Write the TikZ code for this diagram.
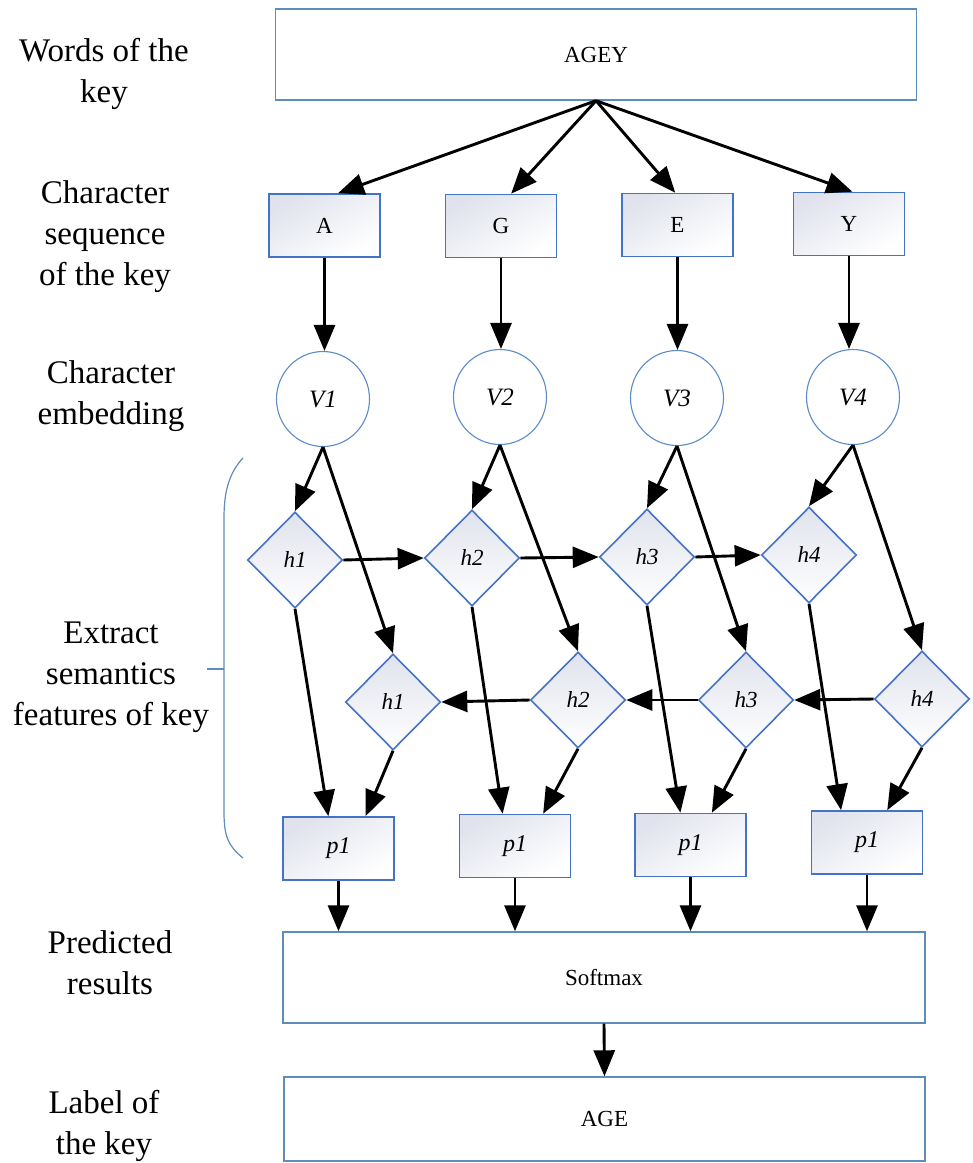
\documentclass[tikz,border=0pt]{standalone}
\usepackage{fontspec}
\setmainfont{Liberation Serif}
\usetikzlibrary{shapes.geometric,arrows.meta,calc}
\definecolor{boxblue}{RGB}{68,114,196}
\definecolor{bigblue}{RGB}{96,140,186}
\definecolor{circblue}{RGB}{91,140,200}
\definecolor{shadegray}{RGB}{224,227,237}
\begin{document}
\begin{tikzpicture}[x=1pt,y=-1pt,
  arr/.style={line width=2.9pt,-{Triangle[length=26pt,width=21pt]}},
  bigbox/.style={draw=bigblue,line width=1.4pt,fill=white,minimum width=641pt,inner sep=0pt,font=\fontsize{23}{27}\selectfont},
  chbox/.style={draw=boxblue,line width=1.6pt,top color=shadegray,bottom color=white,shading angle=30,minimum width=111pt,minimum height=63pt,inner sep=0pt,font=\fontsize{23}{27}\selectfont},
  pbox/.style={chbox,font=\fontsize{24}{28}\selectfont\itshape},
  emb/.style={draw=circblue,line width=1.1pt,fill=white,ellipse,minimum width=93pt,minimum height=95pt,inner sep=0pt,font=\fontsize{25}{29}\selectfont\itshape},
  hid/.style={draw=boxblue,line width=1.6pt,top color=shadegray,bottom color=white,diamond,aspect=1,minimum width=95pt,minimum height=96pt,inner sep=0pt,font=\fontsize{23}{27}\selectfont\itshape},
  lab/.style={align=center,inner sep=0pt,font=\fontsize{33}{41}\selectfont},
  brace/.style={draw=bigblue,line width=1.2pt}
]
\useasboundingbox (0,0) rectangle (973,1163);

% left labels
\node[lab] (l1) at (104,74) {Words of the\\key};
\node[lab] (l2) at (105,237) {Character\\sequence\\of the key};
\node[lab] (l3) at (111,396) {Character\\embedding};
\node[lab] (l4) at (111,677) {Extract\\semantics\\features of key};
\node[lab] (l5) at (110,963) {Predicted\\results};
\node[lab] (l6) at (104,1126) {Label of\\the key};

% brace
\draw[brace] (243,458) .. controls (228,474) and (224,494) .. (224,518) -- (224,812) .. controls (224,836) and (228,846) .. (243,858);
\draw[brace] (207,669) -- (224,669);

% big boxes
\node[bigbox,minimum height=91pt] (top) at (596,54.5) {AGEY};
\node[bigbox,minimum height=91pt,minimum width=642pt] (sm) at (604,977.5) {Softmax};
\node[bigbox,minimum height=84pt] (age) at (604.5,1119) {AGE};

% characters
\node[chbox] (cA) at (324.5,225.5) {A};
\node[chbox] (cG) at (501,226) {G};
\node[chbox] (cE) at (677.5,225) {E};
\node[chbox] (cY) at (849,224) {Y};

% embeddings
\node[emb] (V1) at (323,399) {V1};
\node[emb] (V2) at (500,397) {V2};
\node[emb] (V3) at (677,398) {V3};
\node[emb] (V4) at (853,397) {V4};

% forward hidden
\node[hid] (t1) at (295,560) {h1};
\node[hid] (t2) at (472,558) {h2};
\node[hid] (t3) at (647,557) {h3};
\node[hid] (t4) at (809,555) {h4};

% backward hidden
\node[hid] (b1) at (393,702) {h1};
\node[hid] (b2) at (578,700) {h2};
\node[hid] (b3) at (746,700) {h3};
\node[hid] (b4) at (922,699) {h4};

% outputs
\node[pbox] (p1) at (338.5,848.5) {p1};
\node[pbox] (p2) at (515,846) {p1};
\node[pbox] (p3) at (690.5,845) {p1};
\node[pbox] (p4) at (867,842.5) {p1};

% fan from top
\draw[arr] (top.south) -- ($(cA.north west)!0.62!(cA.north east)$);
\draw[arr] (top.south) -- ($(cG.north west)!0.59!(cG.north east)$);
\draw[arr] (top.south) -- ($(cE.north west)!0.48!(cE.north east)$);
\draw[arr] (top.south) -- ($(cY.north west)!0.53!(cY.north east)$);

% char to embedding
\draw[arr] (cA.south) -- (cA.south |- V1.north);
\draw[arr] (cG.south) -- (cG.south |- V2.north);
\draw[arr] (cE.south) -- (cE.south |- V3.north);
\draw[arr] (cY.south) -- (cY.south |- V4.north);

% embedding to hidden
\foreach \i in {1,2,3,4}{
  \draw[arr] (V\i.south) -- (t\i.north);
  \draw[arr] (V\i.south) -- (b\i.north);
}

% recurrent connections
\draw[arr] (t1.east) -- (t2.west);
\draw[arr] (t2.east) -- (t3.west);
\draw[arr] (t3.east) -- (t4.west);
\draw[arr] (b4.west) -- (b3.east);
\draw[arr] (b3.west) -- (b2.east);
\draw[arr] (b2.west) -- (b1.east);

% hidden to outputs
\draw[arr] (t1.south) -- ($(p1.north west)!0.41!(p1.north east)$);
\draw[arr] (b1.south) -- ($(p1.north west)!0.74!(p1.north east)$);
\draw[arr] (t2.south) -- ($(p2.north west)!0.39!(p2.north east)$);
\draw[arr] (b2.south) -- ($(p2.north west)!0.75!(p2.north east)$);
\draw[arr] (t3.south) -- ($(p3.north west)!0.41!(p3.north east)$);
\draw[arr] (b3.south) -- ($(p3.north west)!0.69!(p3.north east)$);
\draw[arr] (t4.south) -- ($(p4.north west)!0.27!(p4.north east)$);
\draw[arr] (b4.south) -- ($(p4.north west)!0.68!(p4.north east)$);

% outputs to softmax
\foreach \i in {1,2,3,4}{
  \draw[arr] (p\i.south) -- (p\i.south |- sm.north);
}
\draw[arr] (sm.south) -- (age.north);
\end{tikzpicture}
\end{document}
